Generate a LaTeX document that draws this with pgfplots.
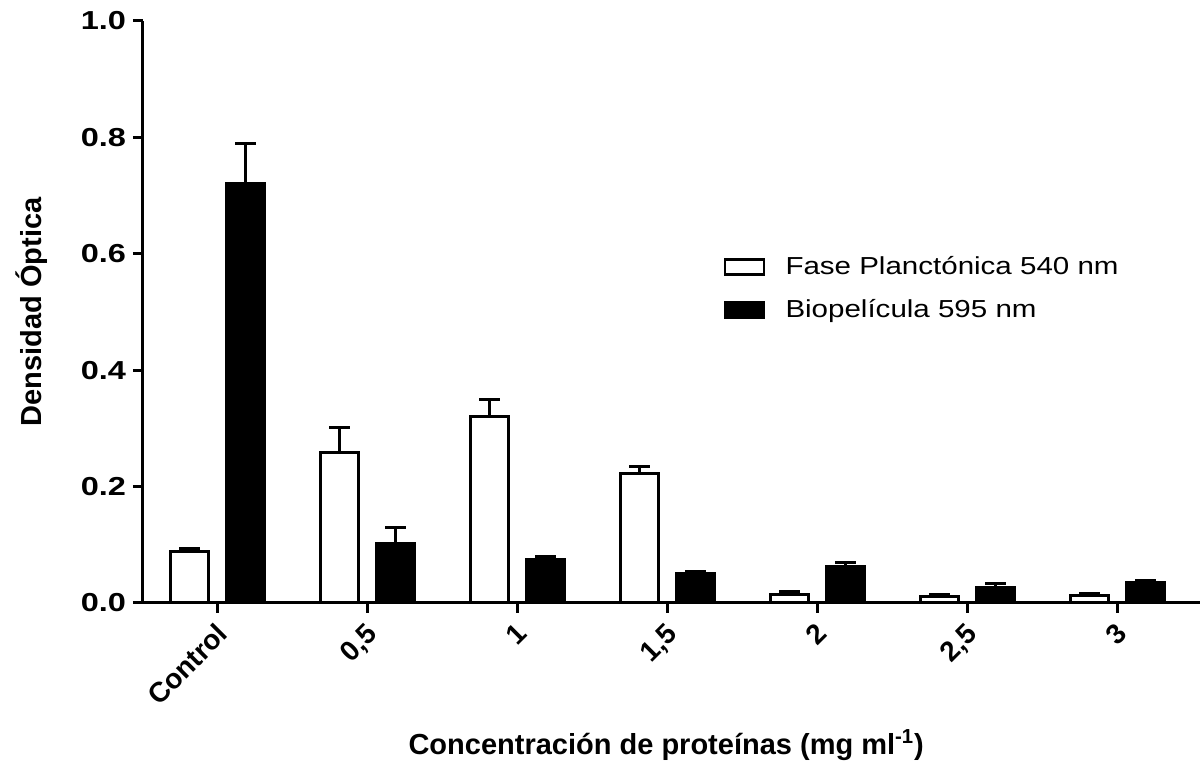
\documentclass[border=0pt]{standalone}
\usepackage{fontspec}
\setmainfont{Liberation Sans}
\newfontfamily\tickfont[FakeStretch=1.25]{Liberation Sans}
\newfontfamily\legfont[FakeStretch=1.2]{Liberation Sans}
\usepackage{pgfplots}
\pgfplotsset{compat=1.18}
\begin{document}
\begin{tikzpicture}
\begin{axis}[
  scale only axis,
  width=528.5pt, height=291pt,
  xmin=-0.5, xmax=6.55,
  ymin=0, ymax=1,
  ybar=9pt, bar width=19pt,
  axis x line=bottom, axis y line=left,
  axis line style={-, line width=1.5pt},
  every tick/.style={black, line width=1.5pt},
  tick align=outside,
  major tick length=5pt,
  xtick={0,1,2,3,4,5,6},
  xticklabels={Control,{0,5},1,{1,5},2,{2,5},3},
  xticklabel style={rotate=45, anchor=north east, font=\fontsize{14pt}{16pt}\selectfont\bfseries, inner sep=2pt, xshift=-2pt},
  ytick={0,0.2,0.4,0.6,0.8,1.0},
  yticklabel style={font=\tickfont\fontsize{13pt}{15pt}\selectfont\bfseries, /pgf/number format/.cd, fixed, fixed zerofill, precision=1, assume math mode=true},
  ylabel={Densidad Óptica},
  every axis y label/.style={at={(axis description cs:-0.105,0.5)}, rotate=90, anchor=center, font=\fontsize{14.5pt}{17pt}\selectfont\bfseries},
  xlabel={Concentración de proteínas (mg ml\textsuperscript{-1})},
  every axis x label/.style={at={(axis description cs:0.495,-0.244)}, anchor=center, font=\fontsize{14.5pt}{17pt}\selectfont\bfseries},
  legend style={draw=none, fill=none, at={(axis description cs:0.549,0.596)}, anchor=north west, inner sep=0pt, row sep=11pt,
    font=\legfont\fontsize{12.3pt}{14pt}\selectfont, nodes={inner sep=0pt}},
  legend cell align=left,
  clip=false,
]
\addplot[draw=black, fill=white, line width=1.5pt,
  legend image code/.code={\draw[line width=1.3pt, black, fill=white] (0pt,-3.75pt) rectangle (19.5pt,3.75pt); \path (29.5pt,0pt);},
  error bars/.cd, y dir=plus, y explicit,
  error bar style={line width=1.5pt, black},
  error mark options={rotate=90, mark size=5.25pt, line width=1.5pt, black}]
coordinates {
(0,0.088) +- (0,0.005)
(1,0.259) +- (0,0.043)
(2,0.320) +- (0,0.030)
(3,0.222) +- (0,0.012)
(4,0.015) +- (0,0.004)
(5,0.011) +- (0,0.003)
(6,0.013) +- (0,0.004)
};
\addlegendentry{Fase Planctónica 540 nm}
\addplot[draw=black, fill=black, line width=1.5pt,
  legend image code/.code={\draw[line width=1.3pt, black, fill=black] (0pt,-3.75pt) rectangle (19.5pt,3.75pt); \path (29.5pt,0pt);},
  error bars/.cd, y dir=plus, y explicit,
  error bar style={line width=1.5pt, black},
  error mark options={rotate=90, mark size=5.25pt, line width=1.5pt, black}]
coordinates {
(0,0.720) +- (0,0.069)
(1,0.103) +- (0,0.026)
(2,0.074) +- (0,0.006)
(3,0.051) +- (0,0.003)
(4,0.062) +- (0,0.008)
(5,0.026) +- (0,0.008)
(6,0.036) +- (0,0.002)
};
\addlegendentry{Biopelícula 595 nm}
\end{axis}
\pgfresetboundingbox
\path[use as bounding box] (-71.5pt,-80pt) rectangle (530pt,301.5pt);
\end{tikzpicture}
\end{document}
